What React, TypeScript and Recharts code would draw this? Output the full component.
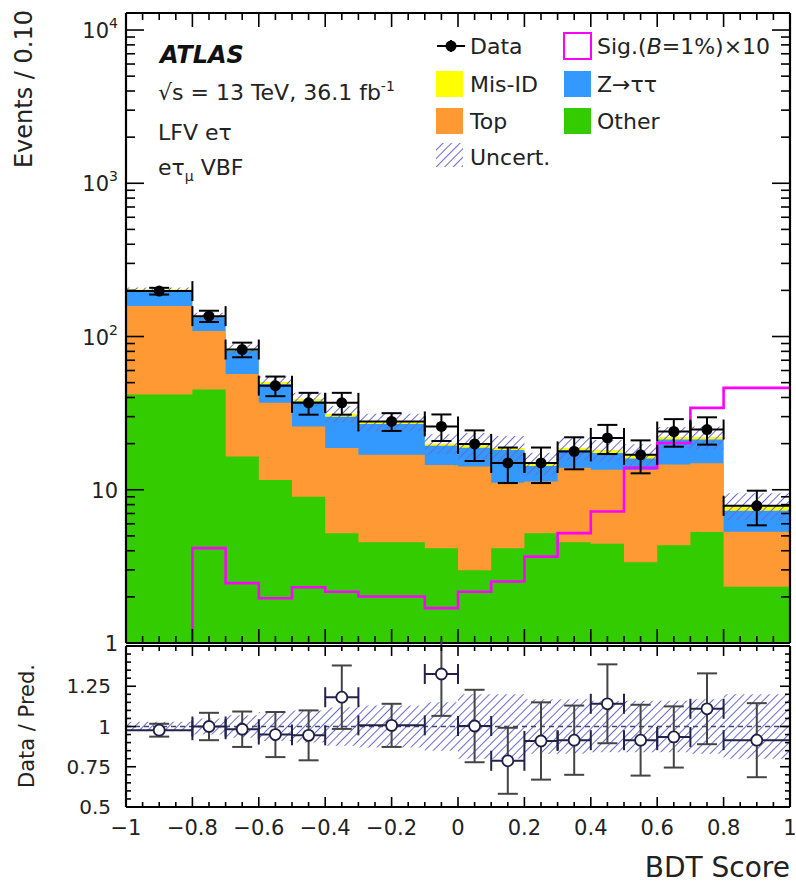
import React from "react";
import { ComposedChart, Area, Line, Scatter, ErrorBar, XAxis, YAxis, ReferenceLine } from "recharts";

// ---- data (per 0.10 in BDT score) ----
const binEdges = [-1, -0.8, -0.7, -0.6, -0.5, -0.4, -0.3, -0.1, 0, 0.1, 0.2, 0.3, 0.4, 0.5, 0.6, 0.7, 0.8, 1];
const otherEvents = [41.8, 45.1, 16.5, 11.6, 9.0, 5.2, 4.55, 4.15, 2.98, 4.15, 5.2, 4.55, 4.45, 3.37, 4.35, 5.3, 2.33];
const topEvents = [116.6, 63.6, 40.4, 25.3, 16.9, 13.5, 12.35, 10.35, 11.2, 6.95, 6.1, 9.35, 9.05, 10.1, 10.25, 9.6, 3.0];
const ztautauEvents = [41.4, 24.8, 23.8, 12.0, 11.9, 11.2, 10.0, 4.9, 4.6, 7.1, 3.0, 4.3, 3.9, 2.5, 6.7, 6.4, 1.97];
const misIdEvents = [3.1, 2.6, 2.6, 1.5, 1.3, 1.4, 0.8, 0.6, 0.8, 0.5, 0.6, 0.6, 0.8, 1.1, 0.8, 0.8, 0.6];
const signalX10 = [0.5, 4.16, 2.46, 1.96, 2.31, 2.16, 2.01, 1.69, 2.16, 2.52, 3.66, 5.21, 7.21, 13.9, 20.2, 34.2, 46.2];
const relUncert = [0.03, 0.05, 0.07, 0.09, 0.1, 0.12, 0.13, 0.15, 0.2, 0.2, 0.17, 0.17, 0.16, 0.16, 0.16, 0.17, 0.2];
const dataEvents = [197.8, 135.8, 82.2, 47.8, 36.9, 36.9, 27.9, 25.9, 19.9, 14.96, 14.96, 17.8, 21.8, 16.9, 24.0, 24.7, 7.86];
const dataErrors = [10, 11.5, 9, 7, 6, 6, 3.7, 5.1, 4.5, 3.9, 3.9, 4.2, 4.7, 4.1, 4.9, 5.0, 2.0];
const ratioValues = [0.977, 1.0, 0.983, 0.95, 0.945, 1.182, 1.007, 1.326, 1.003, 0.787, 0.91, 0.915, 1.141, 0.915, 0.935, 1.11, 0.915];
const ratioErrors = [0.04, 0.085, 0.11, 0.14, 0.155, 0.197, 0.134, 0.26, 0.225, 0.205, 0.24, 0.215, 0.245, 0.22, 0.19, 0.22, 0.23];

// ---- axis ticks / labels ----
const xTickValues = [-1, -0.8, -0.6, -0.4, -0.2, 0, 0.2, 0.4, 0.6, 0.8, 1];
const xTickLabels = ["\u22121", "\u22120.8", "\u22120.6", "\u22120.4", "\u22120.2", "0", "0.2", "0.4", "0.6", "0.8", "1"];
const yDecades = [1, 10, 100, 1000, 10000];
const yDecadeLabels = [["1", ""], ["10", ""], ["10", "2"], ["10", "3"], ["10", "4"]];
const ratioTickValues = [0.5, 0.75, 1, 1.25];
const ratioTickLabels = ["0.5", "0.75", "1", "1.25"];

const FONT = "'DejaVu Sans', 'Liberation Sans', Arial, sans-serif";
const C_OTHER = "#33cc00";
const C_TOP = "#ff9933";
const C_ZTT = "#3399ff";
const C_MISID = "#ffff00";
const C_SIG = "#ff00ff";
const C_HATCH = "#6a6ad4";

const MAIN_DOMAIN: [number, number] = [1, 12915];
const RATIO_DOMAIN: [number, number] = [0.5, 1.5];
const X_DOMAIN: [number, number] = [-1, 1];

// ---- derived tables for the library ----
const nBins = binEdges.length - 1;
const histRows = binEdges.map((edge, i) => {
  const b = Math.min(i, nBins - 1);
  const c1 = otherEvents[b];
  const c2 = c1 + topEvents[b];
  const c3 = c2 + ztautauEvents[b];
  const c4 = c3 + misIdEvents[b];
  const u = relUncert[b];
  return {
    x: edge,
    other: c1,
    top: c2,
    ztt: c3,
    misid: c4,
    band: [c4 * (1 - u), c4 * (1 + u)],
    signal: signalX10[b],
    ratioBand: [1 - u, 1 + u],
  };
});
const centers = dataEvents.map((_, i) => (binEdges[i] + binEdges[i + 1]) / 2);
const halfWidths = dataEvents.map((_, i) => (binEdges[i + 1] - binEdges[i]) / 2);
const dataRows = dataEvents.map((v, i) => ({ x: centers[i], y: v, ey: dataErrors[i], ex: halfWidths[i] }));
const ratioRows = ratioValues.map((v, i) => ({ x: centers[i], y: v, ey: ratioErrors[i], ex: halfWidths[i] }));

const xAllTicks = Array.from({ length: 41 }, (_, i) => Math.round((-1 + i * 0.05) * 100) / 100);
const yLogTicks: number[] = [];
yDecades.forEach((d) => {
  for (let k = 1; k <= 9; k++) {
    const v = k * d;
    if (v <= 10000) yLogTicks.push(v);
  }
});
const ratioAllTicks = Array.from({ length: 21 }, (_, i) => Math.round((0.5 + i * 0.05) * 100) / 100);

const near = (a: number, b: number) => Math.abs(a - b) < 1e-6;
const isXMajor = (v: number) => xTickValues.some((t) => near(t, v));

// ---- tick renderers ----
const makeXTick = (dir: number, majorLen: number, minorLen: number, withLabels: boolean) => (props: any) => {
  const { x, y, payload } = props;
  const v = payload.value;
  const major = isXMajor(v);
  const len = major ? majorLen : minorLen;
  const idx = xTickValues.findIndex((t) => near(t, v));
  return (
    <g>
      <line x1={x} x2={x} y1={y} y2={y + dir * len} stroke="#000" strokeWidth={1.6} />
      {withLabels && idx >= 0 && (
        <text x={x} y={y + 28} textAnchor="middle" fontSize={21} fontFamily={FONT} fill="#222">
          {xTickLabels[idx]}
        </text>
      )}
    </g>
  );
};

const makeLogYTick = (dir: number, withLabels: boolean) => (props: any) => {
  const { x, y, payload } = props;
  const v = payload.value;
  const idx = yDecades.findIndex((d) => near(d, v));
  const major = idx >= 0;
  const len = major ? 18 : 9;
  return (
    <g>
      <line x1={x} x2={x + dir * len} y1={y} y2={y} stroke="#000" strokeWidth={1.6} />
      {withLabels && major && (
        <text x={x - 8} y={y + 8} textAnchor="end" fontSize={21} fontFamily={FONT} fill="#222">
          <tspan>{yDecadeLabels[idx][0]}</tspan>
          {yDecadeLabels[idx][1] !== "" && (
            <tspan dy={-10} fontSize={14}>
              {yDecadeLabels[idx][1]}
            </tspan>
          )}
        </text>
      )}
    </g>
  );
};

const makeRatioYTick = (dir: number, withLabels: boolean) => (props: any) => {
  const { x, y, payload } = props;
  const v = payload.value;
  const idx = ratioTickValues.findIndex((t) => near(t, v));
  const major = idx >= 0 || near(v, 1.5);
  const len = major ? 10 : 5;
  return (
    <g>
      <line x1={x} x2={x + dir * len} y1={y} y2={y} stroke="#000" strokeWidth={1.6} />
      {withLabels && idx >= 0 && (
        <text x={x - 15} y={y + 7} textAnchor="end" fontSize={20} fontFamily={FONT} fill="#222">
          {ratioTickLabels[idx]}
        </text>
      )}
    </g>
  );
};

const frame = { stroke: "#000", strokeWidth: 2.2 };

const DataDot = (p: any) => <circle cx={p.cx} cy={p.cy} r={5.5} fill="#000" />;
const RatioDot = (p: any) => <circle cx={p.cx} cy={p.cy} r={5.5} fill="#fff" stroke="#1e1e44" strokeWidth={1.8} />;

// axes-only chart (drawn on top of the data chart, same plot rectangle)
function AxesFrame(props: {
  height: number;
  margin: { top: number; right: number; bottom: number; left: number };
  yDomain: [number, number];
  yTicks: number[];
  log: boolean;
  xMajor: number;
  xMinor: number;
  xLabels: boolean;
  leftTick: any;
  rightTick: any;
}) {
  const { height, margin, yDomain, yTicks, log, xMajor, xMinor, xLabels, leftTick, rightTick } = props;
  return (
    <ComposedChart width={796} height={height} data={histRows} margin={margin}>
      <XAxis dataKey="x" type="number" domain={X_DOMAIN} ticks={xAllTicks} interval={0} height={1}
        tickSize={0} tickMargin={0} tickLine={false} axisLine={frame} tick={makeXTick(-1, xMajor, xMinor, xLabels)} allowDataOverflow />
      <XAxis xAxisId="top" orientation="top" dataKey="x" type="number" domain={X_DOMAIN} ticks={xAllTicks} interval={0} height={1}
        tickSize={0} tickMargin={0} tickLine={false} axisLine={frame} tick={makeXTick(1, xMajor, xMinor, false)} allowDataOverflow />
      <YAxis type="number" scale={log ? "log" : "linear"} domain={yDomain} ticks={yTicks} interval={0} width={126}
        tickSize={0} tickMargin={0} tickLine={false} axisLine={frame} tick={leftTick} allowDataOverflow />
      <YAxis yAxisId="right" orientation="right" type="number" scale={log ? "log" : "linear"} domain={yDomain} ticks={yTicks} interval={0} width={1}
        tickSize={0} tickMargin={0} tickLine={false} axisLine={frame} tick={rightTick} allowDataOverflow />
    </ComposedChart>
  );
}

export default function App() {
  return (
    <div style={{ position: "absolute", left: 0, top: 0, width: 796, height: 886, background: "#fff", overflow: "hidden" }}>
      <svg width={0} height={0} style={{ position: "absolute" }}>
        <defs>
          <pattern id="hatchMain" patternUnits="userSpaceOnUse" width="6" height="6" patternTransform="rotate(45)">
            <line x1="0" y1="0" x2="0" y2="6" stroke={C_HATCH} strokeWidth="2" />
          </pattern>
        </defs>
      </svg>

      {/* main panel: data */}
      <div style={{ position: "absolute", left: 0, top: 0 }}>
        <ComposedChart width={796} height={645} data={histRows} margin={{ top: 13, right: 6, bottom: 2, left: 126 }}>
          <XAxis hide dataKey="x" type="number" domain={X_DOMAIN} allowDataOverflow />
          <YAxis hide type="number" scale="log" domain={MAIN_DOMAIN} allowDataOverflow />
          <Area dataKey="misid" type="stepAfter" fill={C_MISID} fillOpacity={1} stroke="none" baseValue={1} isAnimationActive={false} dot={false} activeDot={false} />
          <Area dataKey="ztt" type="stepAfter" fill={C_ZTT} fillOpacity={1} stroke="none" baseValue={1} isAnimationActive={false} dot={false} activeDot={false} />
          <Area dataKey="top" type="stepAfter" fill={C_TOP} fillOpacity={1} stroke="none" baseValue={1} isAnimationActive={false} dot={false} activeDot={false} />
          <Area dataKey="other" type="stepAfter" fill={C_OTHER} fillOpacity={1} stroke="none" baseValue={1} isAnimationActive={false} dot={false} activeDot={false} />
          <Area dataKey="band" type="stepAfter" fill="url(#hatchMain)" fillOpacity={1} stroke="none" isAnimationActive={false} dot={false} activeDot={false} />
          <Line dataKey="signal" type="stepAfter" stroke={C_SIG} strokeWidth={2.6} dot={false} activeDot={false} isAnimationActive={false} />
          <Scatter data={dataRows} dataKey="y" shape={DataDot} isAnimationActive={false}>
            <ErrorBar dataKey="ey" direction="y" width={10} stroke="#000" strokeWidth={2} />
            <ErrorBar dataKey="ex" direction="x" width={10} stroke="#000" strokeWidth={2} />
          </Scatter>
        </ComposedChart>
      </div>
      {/* main panel: frame and ticks */}
      <div style={{ position: "absolute", left: 0, top: 0 }}>
        <AxesFrame height={662} margin={{ top: 12, right: 5, bottom: 18, left: 0 }} yDomain={MAIN_DOMAIN} yTicks={yLogTicks} log
          xMajor={14} xMinor={7} xLabels={false} leftTick={makeLogYTick(1, true)} rightTick={makeLogYTick(-1, false)} />
      </div>

      {/* ratio panel: data */}
      <div style={{ position: "absolute", left: 0, top: 640 }}>
        <ComposedChart width={796} height={246} data={histRows} margin={{ top: 6, right: 6, bottom: 79, left: 126 }}>
          <XAxis hide dataKey="x" type="number" domain={X_DOMAIN} allowDataOverflow />
          <YAxis hide type="number" domain={RATIO_DOMAIN} allowDataOverflow />
          <Area dataKey="ratioBand" type="stepAfter" fill="url(#hatchMain)" fillOpacity={1} stroke="none" isAnimationActive={false} dot={false} activeDot={false} />
          <ReferenceLine y={1} stroke="#44446a" strokeWidth={1.3} strokeDasharray="5 4" />
          <Scatter data={ratioRows} dataKey="y" shape={RatioDot} isAnimationActive={false}>
            <ErrorBar dataKey="ey" direction="y" width={10} stroke="#444" strokeWidth={2} />
            <ErrorBar dataKey="ex" direction="x" width={10} stroke="#22224a" strokeWidth={2} />
          </Scatter>
        </ComposedChart>
      </div>
      {/* ratio panel: frame and ticks */}
      <div style={{ position: "absolute", left: 0, top: 640 }}>
        <AxesFrame height={246} margin={{ top: 5, right: 5, bottom: 78, left: 0 }} yDomain={RATIO_DOMAIN} yTicks={ratioAllTicks} log={false}
          xMajor={10} xMinor={5} xLabels leftTick={makeRatioYTick(1, true)} rightTick={makeRatioYTick(-1, false)} />
      </div>

      {/* annotations, legend and axis titles */}
      <svg width={796} height={886} style={{ position: "absolute", left: 0, top: 0, pointerEvents: "none" }} fontFamily={FONT}>
        <text x={160} y={63} fontSize={24} fontWeight="bold" fontStyle="italic" fill="#111">ATLAS</text>
        <text x={158} y={100} fontSize={22} fill="#222">
          √s = 13 TeV, 36.1 fb<tspan dy={-9} fontSize={14}>-1</tspan>
        </text>
        <text x={158} y={140} fontSize={22} fill="#222">LFV eτ</text>
        <text x={158} y={175} fontSize={22} fill="#222">
          eτ<tspan dy={6} fontSize={14}>μ</tspan>
          <tspan dy={-6}> VBF</tspan>
        </text>

        {/* legend */}
        <line x1={437} x2={465} y1={46} y2={46} stroke="#000" strokeWidth={2} />
        <line x1={451} x2={451} y1={40} y2={52} stroke="#000" strokeWidth={2} />
        <circle cx={451} cy={46} r={5.5} fill="#000" />
        <text x={470} y={54} fontSize={22} fill="#222">Data</text>

        <rect x={436} y={71} width={27} height={26} fill={C_MISID} />
        <text x={470} y={92} fontSize={22} fill="#222">Mis-ID</text>

        <rect x={436} y={108} width={27} height={26} fill={C_TOP} />
        <text x={470} y={129} fontSize={22} fill="#222">Top</text>

        <rect x={436} y={143} width={27} height={24} fill="url(#hatchMain)" />
        <text x={470} y={165} fontSize={22} fill="#222">Uncert.</text>

        <rect x={564} y={33} width={27} height={26} fill="#fff" stroke={C_SIG} strokeWidth={2} />
        <text x={597} y={54} fontSize={22} fill="#222">
          Sig.(<tspan fontStyle="italic">B</tspan>=1%)×10
        </text>

        <rect x={564} y={71} width={27} height={26} fill={C_ZTT} />
        <text x={597} y={92} fontSize={22} fill="#222">Z→ττ</text>

        <rect x={564} y={108} width={27} height={26} fill={C_OTHER} />
        <text x={597} y={129} fontSize={22} fill="#222">Other</text>

        {/* axis titles */}
        <text transform="translate(32,10) rotate(-90)" textAnchor="end" fontSize={24} fill="#222">Events / 0.10</text>
        <text transform="translate(34,726) rotate(-90)" textAnchor="middle" fontSize={21} fill="#222">Data / Pred.</text>
        <text x={790} y={877} textAnchor="end" fontSize={28} fill="#222">BDT Score</text>
      </svg>
    </div>
  );
}
